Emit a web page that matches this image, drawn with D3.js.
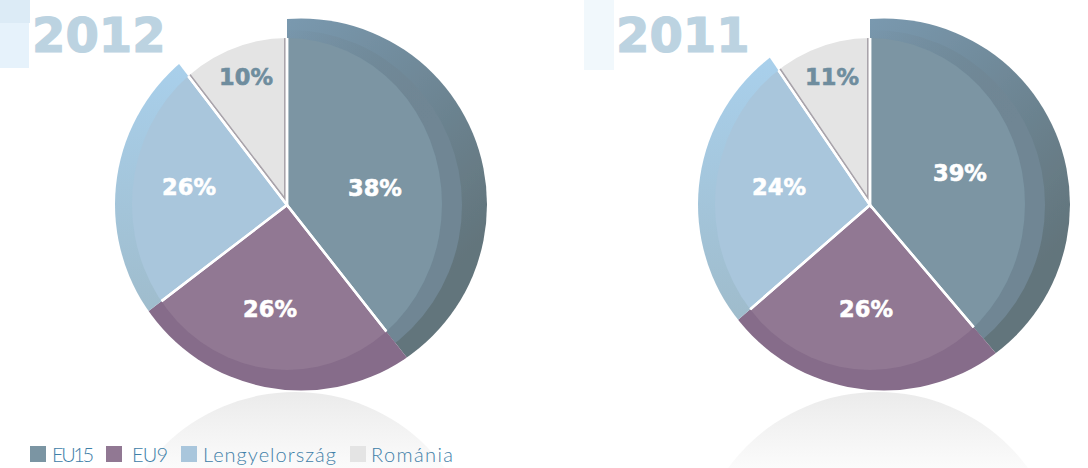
<!DOCTYPE html>
<html>
<head>
<meta charset="utf-8">
<script src="https://cdn.jsdelivr.net/npm/d3@7"></script>
<style>
html, body { margin: 0; padding: 0; background: #fff; overflow: hidden; }
svg { display: block; }
</style>
</head>
<body>
<svg id="chart" width="1088" height="468"></svg>
<script>
const categories = ["EU15", "EU9", "Lengyelország", "Románia"];
const years = ["2012", "2011"];
// printed labels
const labels2012 = ["38%", "26%", "26%", "10%"];
const labels2011 = ["39%", "26%", "24%", "11%"];
// slice sizes as they are drawn in the picture (they differ a bit from the labels)
const slices2012 = [39.4, 25.2, 25.0, 10.4];
const slices2011 = [38.8, 24.8, 26.9, 9.5];

const colors = ["#7b95a3", "#917893", "#a9c6dc", "#e4e4e4"];
const bevels = ["url(#bevel0)", "#866c8a", "url(#bevel2)", "none"];

const svg = d3.select("#chart");
const defs = svg.append("defs");

function gradient(id, x1, y1, x2, y2, stops){
    const gr = defs.append("linearGradient")
        .attr("id", id)
        .attr("x1", x1).attr("y1", y1)
        .attr("x2", x2).attr("y2", y2);
    stops.forEach(s => {
        gr.append("stop")
            .attr("offset", s[0])
            .attr("stop-color", s[1])
            .attr("stop-opacity", s[2]);
    });
    return gr;
}

// bevels: light on top, dark on the right
gradient("bevel0", 0.4, 0, 1, 0.6, [[0, "#7b9bb2", 1], [1, "#62747b", 1]]);
gradient("band0", 0.45, 0, 1, 0.5, [[0, "#6f8694", 0], [0.7, "#6f8694", 1]]);
gradient("bevel2", 0, 0.1, 0, 0.8, [[0, "#a9d0ec", 1], [1, "#9fbccc", 1]]);
gradient("mirror", 0, 392, 0, 468, [[0, "#ebebeb", 1], [1, "#fbfbfb", 1]])
    .attr("gradientUnits", "userSpaceOnUse");

defs.append("filter")
    .attr("id", "soft")
  .append("feGaussianBlur")
    .attr("stdDeviation", 0.6);

// corner squares behind the titles
svg.append("rect").attr("x", 0).attr("y", 0).attr("width", 30).attr("height", 23).attr("fill", "#dcebf6");
svg.append("rect").attr("x", 0).attr("y", 23).attr("width", 29).attr("height", 45).attr("fill", "#e6f2fb");
svg.append("rect").attr("x", 584).attr("y", 0).attr("width", 30).attr("height", 70).attr("fill", "#f1f8fc");

function drawPie(id, cx, cy, title, titleX, slices, labels, labelPos){
    const pie = d3.pie().sort(null)(slices);
    const bigArc = d3.arc().innerRadius(0).outerRadius(300);

    // reflection under the disc
    svg.append("circle")
        .attr("cx", cx + 8)
        .attr("cy", cy + 373)
        .attr("r", 186)
        .attr("fill", "url(#mirror)");

    const g = svg.append("g")
        .attr("transform", `translate(${cx},${cy})`);
    const marks = g.append("g").attr("filter", "url(#soft)");

    // flat face of the pie, the gaps stop where it ends
    defs.append("clipPath")
        .attr("id", `${id}-face`)
      .append("ellipse")
        .attr("cx", 0).attr("cy", -1).attr("rx", 155).attr("ry", 166);

    pie.forEach((d, i) => {
        defs.append("clipPath")
            .attr("id", `${id}-w${i}`)
          .append("path")
            .attr("d", bigArc(d));

        const w = marks.append("g").attr("clip-path", `url(#${id}-w${i})`);
        if(bevels[i] !== "none"){
            w.append("circle")
                .attr("cx", 14).attr("cy", -0.5).attr("r", 186)
                .attr("fill", bevels[i]);
        }
        if(i === 0){
            w.append("ellipse")
                .attr("cx", 2).attr("cy", 0).attr("rx", 173).attr("ry", 175)
                .attr("fill", "url(#band0)");
        }
        w.append("ellipse")
            .attr("cx", 0).attr("cy", -1).attr("rx", 155).attr("ry", 166)
            .attr("fill", colors[i]);
        // grey slice has a dark edge just inside the gap
        if(i === 3){
            w.append("g")
                .attr("clip-path", `url(#${id}-face)`)
              .append("path")
                .attr("d", bigArc(d))
                .attr("fill", "none")
                .attr("stroke", "#a9a4ab")
                .attr("stroke-width", 6);
        }
    });

    marks.append("g")
        .attr("clip-path", `url(#${id}-face)`)
      .selectAll(".gap")
        .data(pie)
        .enter()
      .append("path")
        .attr("class", "gap")
        .attr("d", bigArc)
        .attr("fill", "none")
        .attr("stroke", "#fff")
        .attr("stroke-width", 2.5);

    g.selectAll(".lbl")
        .data(labels)
        .enter()
      .append("text")
        .attr("class", "lbl")
        .attr("x", (d, i) => labelPos[i][0])
        .attr("y", (d, i) => labelPos[i][1])
        .attr("text-anchor", "middle")
        .attr("font-family", "DejaVu Sans")
        .attr("font-weight", "bold")
        .attr("font-size", 22.5)
        .attr("fill", (d, i) => i === 3 ? "#6f8d9e" : "#fff")
        .attr("stroke", (d, i) => i === 3 ? "#6f8d9e" : "#fff")
        .attr("stroke-width", 0.6)
        .text(d => d);

    svg.append("text")
        .attr("x", titleX)
        .attr("y", 52)
        .attr("font-family", "DejaVu Sans")
        .attr("font-weight", "bold")
        .attr("font-size", 48)
        .attr("fill", "#bcd3e1")
        .attr("stroke", "#bcd3e1")
        .attr("stroke-width", 1.2)
        .text(title);
}

drawPie("a", 287, 205, years[0], 32, slices2012, labels2012,
    [[88, -9], [-17, 112], [-98, -10], [-41, -120]]);
drawPie("b", 870, 205, years[1], 616, slices2011, labels2011,
    [[90, -24], [-4, 112], [-91, -10], [-38, -120]]);

// legend
const swatchX = [30, 106, 181, 350];
const legendX = [52, 132, 203, 371];
const legendW = [42, 36, 133, 82];
const legend = svg.selectAll(".legend")
    .data(categories)
    .enter()
  .append("g")
    .attr("class", "legend");
legend.append("rect")
    .attr("x", (d, i) => swatchX[i])
    .attr("y", 446)
    .attr("width", 16)
    .attr("height", 16)
    .attr("fill", (d, i) => colors[i]);
legend.append("text")
    .attr("x", (d, i) => legendX[i])
    .attr("y", 462)
    .attr("font-family", "Lato")
    .attr("font-weight", 300)
    .attr("font-size", 20)
    .attr("textLength", (d, i) => legendW[i])
    .attr("fill", "#3f80a8")
    .text(d => d);
</script>
</body>
</html>
